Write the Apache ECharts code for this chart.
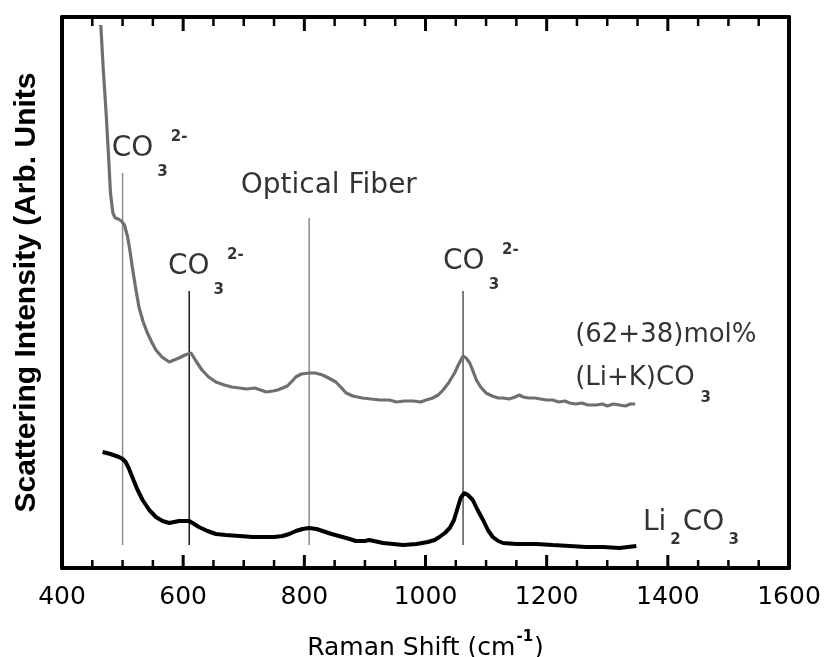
<!DOCTYPE html>
<html>
<head>
<meta charset="utf-8">
<script src="https://cdn.jsdelivr.net/npm/echarts@6/dist/echarts.min.js"></script>
<style>
html,body{margin:0;padding:0;background:#fff;}
#chart{width:824px;height:657px;}
</style>
</head>
<body>
<div id="chart"></div>
<script>
// ---- data (Raman shift in cm^-1, intensity in arbitrary units) ----
const shiftMelt = [464,468,473,477,480,484,488,493,498,503,508,512,516,521,527,534,541,548,555,565,577,585,593,603,613,620,631,642,654,668,680,693,705,718,728,737,748,756,764,772,780,786,795,808,818,830,840,852,860,869,880,896,910,925,940,952,965,980,992,1001,1012,1021,1029,1038,1048,1055,1062,1067,1073,1079,1084,1091,1100,1110,1120,1128,1138,1148,1155,1161,1170,1180,1190,1200,1210,1220,1230,1238,1248,1258,1268,1282,1292,1300,1310,1320,1330,1338,1346];
const intensityMelt = [543,500,453,410,375,355,350,349,347,343,332,318,301,282,261,246,235,226,218,211,206,208,210,213,215,208,198,191,186,183,181,180,179,180,178,176,177,178,180,182,187,191,194,195,195,193,190,186,181,175,172,170,169,168,168,166,167,167,166,168,170,173,178,185,195,204,212,210,205,196,188,181,175,172,170,170,169,171,173,171,170,170,169,168,168,166,167,165,164,165,163,163,164,162,164,163,162,164,164];

const shiftLi2 = [467,480,494,500,505,510,516,524,533,544,555,566,577,585,593,602,610,618,626,640,654,670,693,715,737,750,764,775,786,797,808,820,830,845,863,875,885,900,907,930,963,985,1004,1015,1023,1032,1040,1047,1053,1058,1064,1070,1078,1086,1095,1103,1111,1120,1128,1150,1183,1210,1238,1265,1293,1320,1348];
const intensityLi2 = [116,114,111,109,106,100,91,79,68,58,51,47,45,46,47,47,47,44,41,37,34,33,32,31,31,31,32,34,37,39,40,39,37,34,31,29,27,27,28,25,23,24,26,28,31,35,40,48,60,70,75,73,68,58,48,38,31,27,25,24,24,23,22,21,21,20,22];

// band marker lines
const bandShift = [500, 610, 808, 1062];
const bandTop = [395, 277, 350, 277];
const bandBottom = [23, 23, 23, 23];
const bandColor = ['#8c8c8c', '#1a1a1a', '#8c8c8c', '#555555'];

// axes
const xMin = 400, xMax = 1600, xStep = 200, xMinorStep = 50;
const yMin = 0, yMax = 551;

// annotation texts (rich formatter) and anchor points in data units
const noteText = [
  '{b|CO}{s|3}{p|2-}',
  '{b|CO}{s|3}{p|2-}',
  '{o|Optical Fiber}',
  '{b|CO}{s|3}{p|2-}',
  '{m|(62+38)mol%}',
  '{m|(Li+K)CO}{t|3}',
  '{b|Li}{u|2}{b|CO}{u|3}'
];
const noteShift = [482, 575, 695, 1029, 1247, 1247, 1359];
const noteIntensity = [438, 320.5, 396.5, 325.5, 245.5, 202.5, 64.5];

// ---- chart ----
const FONT = 'DejaVu Sans';
const INK = '#000';
const chart = echarts.init(document.getElementById('chart'), null, {renderer: 'canvas'});

// inside frame ticks (top and bottom), built from the axis range, drawn as broken line segments
function tickSegments(major) {
  const out = [];
  for (let v = xMin + xMinorStep; v < xMax; v += xMinorStep) {
    if ((v % xStep === 0) !== major) continue;
    const lb = major ? 13 : 8, lt = major ? 14 : 9;
    out.push([v, yMin], [v, yMin + lb], [v, '-'], [v, yMax], [v, yMax - lt], [v, '-']);
  }
  return out;
}

const series = [];
bandShift.forEach((x, i) => {
  series.push({
    type: 'line', silent: true, symbol: 'none', z: 1,
    data: [[x, bandBottom[i]], [x, bandTop[i]]],
    lineStyle: {color: bandColor[i], width: 1.5}
  });
});
series.push({
  type: 'line', name: '(62+38)mol% (Li+K)CO3', symbol: 'none', z: 3, silent: true,
  data: shiftMelt.map((x, i) => [x, intensityMelt[i]]),
  lineStyle: {color: '#6f6f6f', width: 3.2}
});
series.push({
  type: 'line', name: 'Li2CO3', symbol: 'none', z: 3, silent: true,
  data: shiftLi2.map((x, i) => [x, intensityLi2[i]]),
  lineStyle: {color: '#000000', width: 4}
});
series.push({
  type: 'line', silent: true, symbol: 'none', z: 4, connectNulls: false,
  data: tickSegments(true), lineStyle: {color: '#000', width: 3, cap: 'butt'}
});
series.push({
  type: 'line', silent: true, symbol: 'none', z: 4, connectNulls: false,
  data: tickSegments(false), lineStyle: {color: '#000', width: 2.5, cap: 'butt'}
});
series.push({
  type: 'scatter', silent: true, z: 5, symbolSize: 1,
  itemStyle: {color: 'rgba(0,0,0,0)'},
  data: noteShift.map((x, i) => ({value: [x, noteIntensity[i]], txt: noteText[i]})),
  label: {
    show: true, position: 'inside', align: 'left', verticalAlign: 'top',
    formatter: p => p.data.txt,
    rich: {
      b: {fontFamily: FONT, fontSize: 28, color: INK, verticalAlign: 'top', padding: [5, 4, 0, 0]},
      s: {fontFamily: FONT, fontSize: 15, fontWeight: 'bold', color: INK, verticalAlign: 'top', padding: [35, 3, 0, 0]},
      p: {fontFamily: FONT, fontSize: 15, fontWeight: 'bold', color: INK, verticalAlign: 'top'},
      o: {fontFamily: FONT, fontSize: 28, color: INK, verticalAlign: 'top'},
      m: {fontFamily: FONT, fontSize: 26, color: INK, verticalAlign: 'top', padding: [0, 6, 0, 0]},
      t: {fontFamily: FONT, fontSize: 15, fontWeight: 'bold', color: INK, verticalAlign: 'top', padding: [25, 0, 0, 0]},
      u: {fontFamily: FONT, fontSize: 15, fontWeight: 'bold', color: INK, verticalAlign: 'top', padding: [29, 2, 0, 0]}
    }
  }
});

function frameAxis() {
  return {
    axisLine: {show: true, onZero: false, lineStyle: {color: '#000', width: 4}},
    axisTick: {show: false}, minorTick: {show: false}, splitLine: {show: false}
  };
}

chart.setOption({
  animation: false,
  backgroundColor: '#fff',
  grid: {left: 62, right: 35, top: 17, bottom: 89, containLabel: false, outerBoundsMode: 'none'},
  xAxis: [
    Object.assign({
      type: 'value', position: 'bottom', min: xMin, max: xMax, interval: xStep,
      axisLabel: {show: true, margin: 17, fontFamily: FONT, fontSize: 25, color: INK, formatter: v => String(v)},
      name: '{m|Raman Shift (cm}{p|-1}{m|)}',
      nameLocation: 'middle', nameGap: 62,
      nameTextStyle: {
        rich: {
          m: {fontFamily: FONT, fontSize: 25, color: INK, verticalAlign: 'top', padding: [5.5, 0, 0, 0]},
          p: {fontFamily: FONT, fontSize: 15, fontWeight: 'bold', color: INK, verticalAlign: 'top', padding: [0, 1, 0, 1]}
        }
      }
    }, frameAxis()),
    Object.assign({
      type: 'value', position: 'top', min: xMin, max: xMax, interval: xStep,
      axisLabel: {show: false}
    }, frameAxis())
  ],
  yAxis: [
    Object.assign({
      type: 'value', position: 'left', min: yMin, max: yMax,
      axisLabel: {show: false},
      name: 'Scattering Intensity (Arb. Units',
      nameLocation: 'middle', nameRotate: 90, nameGap: 20,
      nameTextStyle: {fontFamily: 'Liberation Sans', fontWeight: 'bold', fontSize: 30, color: INK}
    }, frameAxis()),
    Object.assign({
      type: 'value', position: 'right', min: yMin, max: yMax,
      axisLabel: {show: false}
    }, frameAxis())
  ],
  series: series
});
</script>
</body>
</html>
